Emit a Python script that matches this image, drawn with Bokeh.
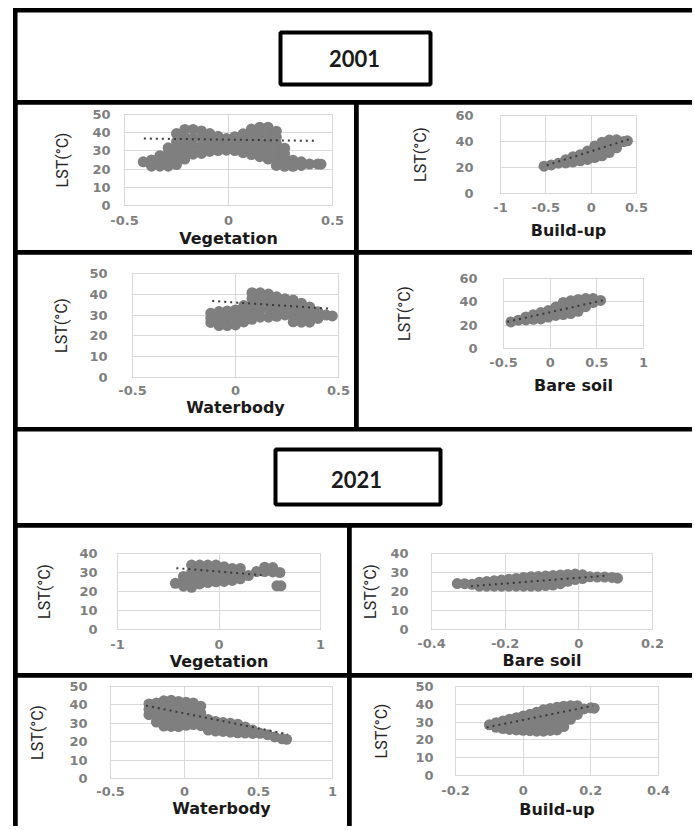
from bokeh.plotting import figure
from bokeh.layouts import row, column
from bokeh.models import Range1d, Label
from bokeh.embed import file_html
from bokeh.resources import INLINE

# ---------------- data ----------------
years = ["2001", "2021"]

# 2001 - Vegetation vs LST
veg01_pts = [(-0.41, 24), (-0.37, 21.6), (-0.37, 25), (-0.33, 21.6), (-0.33, 24.6), (-0.33, 27.4),
             (-0.29, 21.6), (-0.29, 25), (-0.29, 28.5), (-0.29, 31.7),
             (-0.25, 22.5), (-0.25, 26.5), (-0.25, 30.5), (-0.25, 35), (-0.25, 39.5),
             (-0.21, 25.5), (-0.21, 29.5), (-0.21, 33.5), (-0.21, 37.5), (-0.21, 41.8),
             (-0.17, 28.2), (-0.17, 32.5), (-0.17, 37), (-0.17, 41.8),
             (-0.13, 28.6), (-0.13, 32.8), (-0.13, 37), (-0.13, 41),
             (-0.09, 29.7), (-0.09, 33), (-0.09, 36.3), (-0.09, 39.5),
             (-0.05, 30.2), (-0.05, 34), (-0.05, 38), (-0.01, 30.4), (-0.01, 33.6), (-0.01, 36.8),
             (0.03, 30.2), (0.03, 34), (0.03, 37.8), (0.07, 29), (0.07, 32.5), (0.07, 36), (0.07, 39.4),
             (0.11, 28), (0.11, 31.5), (0.11, 35), (0.11, 38.5), (0.11, 42),
             (0.15, 26.8), (0.15, 30.8), (0.15, 34.8), (0.15, 39), (0.15, 43),
             (0.19, 25.5), (0.19, 29.8), (0.19, 34.2), (0.19, 38.6), (0.19, 43),
             (0.23, 22), (0.23, 26), (0.23, 30), (0.23, 34), (0.23, 37.5), (0.23, 40.8),
             (0.27, 21.5), (0.27, 25), (0.27, 28.3), (0.27, 31.5), (0.31, 21.5), (0.31, 24.9),
             (0.35, 22), (0.35, 24), (0.39, 22.8), (0.43, 22.8), (0.445, 22.7)]
veg01_trend = [(-0.407, 36.8), (0.428, 35.5)]

# 2001 - Build-up vs LST
bu01_pts = [(-0.52, 21), (-0.44, 22), (-0.36, 23.3), (-0.28, 23.5), (-0.28, 26), (-0.20, 24.3), (-0.20, 28.3),
            (-0.12, 25.2), (-0.12, 29.8), (-0.04, 26.2), (-0.04, 29.4), (-0.04, 32.6),
            (0.04, 27.7), (0.04, 32), (0.04, 36.6), (0.12, 29), (0.12, 34), (0.12, 39.5),
            (0.20, 31.5), (0.20, 36.3), (0.20, 41.1), (0.28, 35.2), (0.28, 38.2), (0.28, 41.3),
            (0.36, 40), (0.40, 40.5)]
bu01_trend = [(-0.49, 21.7), (0.43, 42)]

# 2001 - Waterbody vs LST
wb01_pts = [(-0.12, 26.5), (-0.12, 28.7), (-0.12, 30.9), (-0.08, 25), (-0.08, 28.4), (-0.08, 31.7),
            (-0.04, 25), (-0.04, 28.5), (-0.04, 32), (0.0, 25.3), (0.0, 29), (0.0, 32.5),
            (0.04, 26.7), (0.04, 30.6), (0.04, 34.6),
            (0.08, 28), (0.08, 31.5), (0.08, 34.8), (0.08, 38), (0.08, 40.8),
            (0.12, 29), (0.12, 33), (0.12, 37), (0.12, 40.7), (0.16, 29), (0.16, 32.7), (0.16, 36.4), (0.16, 40.1),
            (0.20, 29.4), (0.20, 32.5), (0.20, 35.6), (0.20, 38.8), (0.24, 30.1), (0.24, 34), (0.24, 37.9),
            (0.28, 26.8), (0.28, 30.3), (0.28, 33.8), (0.28, 37.2), (0.32, 26.6), (0.32, 29.6), (0.32, 32.6), (0.32, 35.7),
            (0.36, 26.6), (0.36, 30.2), (0.36, 33.9), (0.40, 28.4), (0.40, 31.6), (0.44, 30), (0.47, 29.6)]
wb01_trend = [(-0.113, 36.8), (0.468, 33)]

# 2001 - Bare soil vs LST
bs01_pts = [(-0.42, 22.8), (-0.34, 24.3), (-0.26, 24.5), (-0.26, 27), (-0.18, 25), (-0.18, 29),
            (-0.10, 25.3), (-0.10, 30.8), (-0.02, 27), (-0.02, 32.5), (0.06, 28.3), (0.06, 32), (0.06, 35.5),
            (0.14, 29.1), (0.14, 34.3), (0.14, 39.5), (0.22, 30), (0.22, 35.5), (0.22, 40.9),
            (0.30, 31.9), (0.30, 37), (0.30, 42), (0.38, 35.8), (0.38, 39.3), (0.38, 42.8),
            (0.46, 39.4), (0.46, 42.8), (0.54, 41.2)]
bs01_trend = [(-0.46, 22.9), (0.607, 42)]

# 2021 - Vegetation vs LST
veg21_pts = [(-0.43, 24.3), (-0.35, 22.8), (-0.35, 25.3), (-0.35, 27.9),
             (-0.27, 22.2), (-0.27, 26), (-0.27, 30), (-0.27, 33.9),
             (-0.19, 24), (-0.19, 27.3), (-0.19, 30.6), (-0.19, 33.9),
             (-0.11, 24.7), (-0.11, 27.8), (-0.11, 30.9), (-0.11, 33.9),
             (-0.03, 25.1), (-0.03, 28.1), (-0.03, 31), (-0.03, 33.9),
             (0.05, 25.3), (0.05, 29.1), (0.05, 33), (0.13, 25.8), (0.13, 29), (0.13, 32.1),
             (0.21, 26.7), (0.21, 29.4), (0.21, 32.1), (0.29, 28.4), (0.37, 30.5),
             (0.45, 30.5), (0.45, 32.8), (0.53, 30.3), (0.53, 32.6), (0.60, 30),
             (0.57, 23), (0.61, 23)]
veg21_trend = [(-0.42, 32.3), (0.42, 28.6)]

# 2021 - Bare soil vs LST
bs21_pts = [(-0.33, 24.2), (-0.31, 24.1), (-0.29, 23.8), (-0.27, 22.8), (-0.27, 24.9), (-0.25, 22.8), (-0.25, 25.2),
            (-0.23, 22.8), (-0.23, 25.6), (-0.21, 22.8), (-0.21, 26), (-0.19, 22.8), (-0.19, 26.5),
            (-0.17, 22.8), (-0.17, 26.9), (-0.15, 22.8), (-0.15, 27.4),
            (-0.13, 22.8), (-0.13, 25.2), (-0.13, 27.7), (-0.11, 22.8), (-0.11, 25.3), (-0.11, 27.9),
            (-0.09, 23.1), (-0.09, 25.6), (-0.09, 28.2), (-0.07, 23.4), (-0.07, 25.8), (-0.07, 28.4),
            (-0.05, 24.1), (-0.05, 26.4), (-0.05, 28.7), (-0.03, 25.4), (-0.03, 29), (-0.01, 26.3), (-0.01, 29.2),
            (0.01, 26.8), (0.01, 28.8), (0.03, 27.7), (0.05, 27.6), (0.07, 27.6), (0.09, 27.4), (0.105, 27)]
bs21_trend = [(-0.293, 22.8), (0.078, 28.4)]

# 2021 - Waterbody vs LST
wb21_pts = [(-0.24, 34.7), (-0.24, 37.6), (-0.24, 40.5),
            (-0.19, 30.7), (-0.19, 34.1), (-0.19, 37.6), (-0.19, 41),
            (-0.14, 28.5), (-0.14, 32), (-0.14, 35.5), (-0.14, 39), (-0.14, 42.2),
            (-0.09, 28.3), (-0.09, 31.8), (-0.09, 35.4), (-0.09, 39), (-0.09, 42.5),
            (-0.04, 28.2), (-0.04, 31.6), (-0.04, 35), (-0.04, 38.5), (-0.04, 41.9),
            (0.01, 28.9), (0.01, 32), (0.01, 35.2), (0.01, 38.4), (0.01, 41.5),
            (0.06, 29.3), (0.06, 33.2), (0.06, 37.1), (0.06, 41),
            (0.11, 28.7), (0.11, 32.2), (0.11, 35.7), (0.11, 39.3),
            (0.16, 26.3), (0.16, 29.1), (0.16, 32), (0.21, 25.8), (0.21, 28.4), (0.21, 31),
            (0.26, 25.6), (0.26, 28), (0.26, 30.5), (0.31, 25.2), (0.31, 27.6), (0.31, 30),
            (0.36, 24.8), (0.36, 27.2), (0.36, 29.5), (0.41, 24.7), (0.41, 28), (0.46, 24.5), (0.46, 26.3),
            (0.51, 24.6), (0.56, 23.8), (0.61, 22.6), (0.66, 21.6), (0.69, 21.3)]
wb21_trend = [(-0.26, 39.6), (0.696, 24.1)]

# 2021 - Build-up vs LST
bu21_pts = [(-0.10, 28.5), (-0.08, 27.1), (-0.08, 29.7), (-0.06, 26.4), (-0.06, 28.5), (-0.06, 30.6),
            (-0.04, 25.9), (-0.04, 28.8), (-0.04, 31.6), (-0.02, 25.6), (-0.02, 29), (-0.02, 32.5),
            (0.0, 25.4), (0.0, 29.4), (0.0, 33.4), (0.02, 25.2), (0.02, 28.2), (0.02, 31.3), (0.02, 34.4),
            (0.04, 24.9), (0.04, 28.5), (0.04, 32), (0.04, 35.6), (0.06, 24.9), (0.06, 28.9), (0.06, 32.9), (0.06, 36.9),
            (0.08, 25.3), (0.08, 29.4), (0.08, 33.5), (0.08, 37.7), (0.10, 25.6), (0.10, 29.8), (0.10, 34), (0.10, 38.3),
            (0.12, 27.5), (0.12, 31.3), (0.12, 35.1), (0.12, 38.9), (0.14, 31.6), (0.14, 35.4), (0.14, 39.2),
            (0.16, 34.3), (0.16, 36.8), (0.16, 39.2), (0.18, 37.4), (0.20, 38), (0.21, 37.8)]
bu21_trend = [(-0.108, 27), (0.206, 39.2)]

# axis ticks and labels
ticks_m05_05 = [-0.5, 0, 0.5]
labels_m05_05 = ["-0.5", "0", "0.5"]
ticks_m1_05 = [-1, -0.5, 0, 0.5]
labels_m1_05 = ["-1", "-0.5", "0", "0.5"]
ticks_m05_1 = [-0.5, 0, 0.5, 1]
labels_m05_1 = ["-0.5", "0", "0.5", "1"]
ticks_m1_1 = [-1, 0, 1]
labels_m1_1 = ["-1", "0", "1"]
ticks_m04_02 = [-0.4, -0.2, 0, 0.2]
labels_m04_02 = ["-0.4", "-0.2", "0", "0.2"]
ticks_m02_04 = [-0.2, 0, 0.2, 0.4]
labels_m02_04 = ["-0.2", "0", "0.2", "0.4"]
ticks_0_50 = [0, 10, 20, 30, 40, 50]
labels_0_50 = ["0", "10", "20", "30", "40", "50"]
ticks_0_60 = [0, 20, 40, 60]
labels_0_60 = ["0", "20", "40", "60"]
ticks_0_40 = [0, 10, 20, 30, 40]
labels_0_40 = ["0", "10", "20", "30", "40"]

lst_label = "LST(°C)"

# ---------------- styling helpers ----------------
POINT = "#7f7f7f"
GRID = "#d9d9d9"
TICK = "#7f7f7f"
BLACK_BG = {"background-color": "black"}


def js_key(v):
    fv = float(v)
    return str(int(fv)) if fv.is_integer() else repr(fv)


def overrides(ticks, labels):
    d = {}
    for t, l in zip(ticks, labels):
        d[t] = l
        d[js_key(t)] = l
    return d


def section(w, h, box, text, tpos):
    s = figure(width=w, height=h, output_backend="svg", toolbar_location=None,
               x_axis_type=None, y_axis_type=None, min_border=0, frame_align=False,
               x_range=Range1d(0, w), y_range=Range1d(h, 0),
               background_fill_color="white", border_fill_color="white",
               outline_line_color=None)
    s.xgrid.visible = False
    s.ygrid.visible = False
    s.quad(left=[box[0]], right=[box[1]], top=[box[2]], bottom=[box[3]],
           fill_color=None, line_color="black", line_width=4)
    s.add_layout(Label(x=tpos[0], y=tpos[1], text=text, text_align="center",
                       text_baseline="middle", text_font="Lato", text_font_style="bold",
                       text_font_size="22px", text_color="#1a1a1a"))
    return s


def panel(W, H, frame, xr, yr, xt, xl, yt, yl, pts, trend, xtitle,
          xstand, xlab_stand, ystand, ylab_stand, lst_text=lst_label):
    fl, ft, fw, fh = frame
    p = figure(width=W, height=H, output_backend="svg", toolbar_location=None,
               x_range=Range1d(*xr), y_range=Range1d(*yr), frame_align=False,
               min_border_left=fl, min_border_top=ft,
               min_border_right=W - fl - fw, min_border_bottom=H - ft - fh,
               background_fill_color="white", border_fill_color="white",
               outline_line_color=GRID, outline_line_width=1)
    for ax, ticks, labels, stand in ((p.xaxis, xt, xl, xstand), (p.yaxis, yt, yl, ystand)):
        ax.ticker = ticks
        ax.major_label_overrides = overrides(ticks, labels)
        ax.axis_line_color = None
        ax.major_tick_line_color = None
        ax.minor_tick_line_color = None
        ax.major_tick_out = 0
        ax.major_tick_in = 0
        ax.major_label_standoff = stand
        ax.major_label_text_font = "DejaVu Sans"
        ax.major_label_text_font_style = "bold"
        ax.major_label_text_font_size = "13px"
        ax.major_label_text_color = TICK
    p.xaxis.axis_label = xtitle
    p.xaxis.axis_label_standoff = xlab_stand
    p.xaxis.axis_label_text_font = "DejaVu Sans"
    p.xaxis.axis_label_text_font_style = "bold"
    p.xaxis.axis_label_text_font_size = "16px"
    p.xaxis.axis_label_text_color = "#1a1a1a"
    p.yaxis.axis_label = lst_text
    p.yaxis.axis_label_standoff = ylab_stand
    p.yaxis.axis_label_text_font = "Roboto"
    p.yaxis.axis_label_text_font_style = "normal"
    p.yaxis.axis_label_text_font_size = "16px"
    p.yaxis.axis_label_text_color = "#262626"
    p.xgrid.grid_line_color = GRID
    p.ygrid.grid_line_color = GRID

    xs = [a for a, b in pts]
    ys = [b for a, b in pts]
    p.scatter(x=xs, y=ys, size=11, fill_color=POINT, line_color=None)
    p.line(x=[a for a, b in trend], y=[b for a, b in trend], line_color="#3a3a3a",
           line_width=2, line_dash="2 4")
    return p


# ---------------- panels ----------------
p1 = panel(337, 146, (107, 10, 208, 91), (-0.5, 0.5), (0, 50), ticks_m05_05, labels_m05_05,
           ticks_0_50, labels_0_50, veg01_pts, veg01_trend, "Vegetation", 10, 1, 14, 17)
p2 = panel(334, 146, (142, 11, 136, 78), (-1, 0.5), (0, 60), ticks_m1_05, labels_m1_05,
           ticks_0_60, labels_0_60, bu01_pts, bu01_trend, "Build-up", 9, 6, 27, 22)
p3 = panel(337, 173, (115, 19, 206, 104), (-0.5, 0.5), (0, 50), ticks_m05_05, labels_m05_05,
           ticks_0_50, labels_0_50, wb01_pts, wb01_trend, "Waterbody", 8, 0, 25, 15)
p4 = panel(334, 173, (145, 24, 140, 70), (-0.5, 1), (0, 60), ticks_m05_1, labels_m05_1,
           ticks_0_60, labels_0_60, bs01_pts, bs01_trend, "Bare soil", 9, 6, 26, 42)
p5 = panel(330, 146, (100, 26, 203, 76), (-1, 1), (0, 40), ticks_m1_1, labels_m1_1,
           ticks_0_40, labels_0_40, veg21_pts, veg21_trend, "Vegetation", 10, 0, 20, 22)
p6 = panel(341, 146, (80, 26, 221, 76), (-0.4, 0.2), (0, 40), ticks_m04_02, labels_m04_02,
           ticks_0_40, labels_0_40, bs21_pts, bs21_trend, "Bare soil", 9, 0, 23, 7)
p7 = panel(330, 149, (93, 9, 222, 92), (-0.5, 1), (0, 50), ticks_m05_1, labels_m05_1,
           ticks_0_50, labels_0_50, wb21_pts, wb21_trend, "Waterbody", 8, 0, 23, 19)
p8 = panel(341, 149, (104, 9, 203, 89), (-0.2, 0.4), (0, 50), ticks_m02_04, labels_m02_04,
           ticks_0_50, labels_0_50, bu21_pts, bu21_trend, "Build-up", 10, 2, 22, 21)

sec1 = section(675, 88, (263, 413, 20, 72), years[0], (337, 46))
sec2 = section(675, 92, (258, 423, 18, 73), years[1], (339, 48))

row1 = row(p1, p2, spacing=4, styles=BLACK_BG)
row2 = row(p3, p4, spacing=4, styles=BLACK_BG)
row3 = row(p5, p6, spacing=4, styles=BLACK_BG)
row4 = row(p7, p8, spacing=4, styles=BLACK_BG)

page = column(sec1, row1, row2, sec2, row3, row4, spacing=4,
              styles={"background-color": "black", "border-top": "4px solid black",
                      "border-left": "4px solid black", "margin-left": "13px",
                      "margin-top": "8px"})

with open("out.html", "w") as f:
    f.write(file_html(page, INLINE, title="LST scatter plots"))
